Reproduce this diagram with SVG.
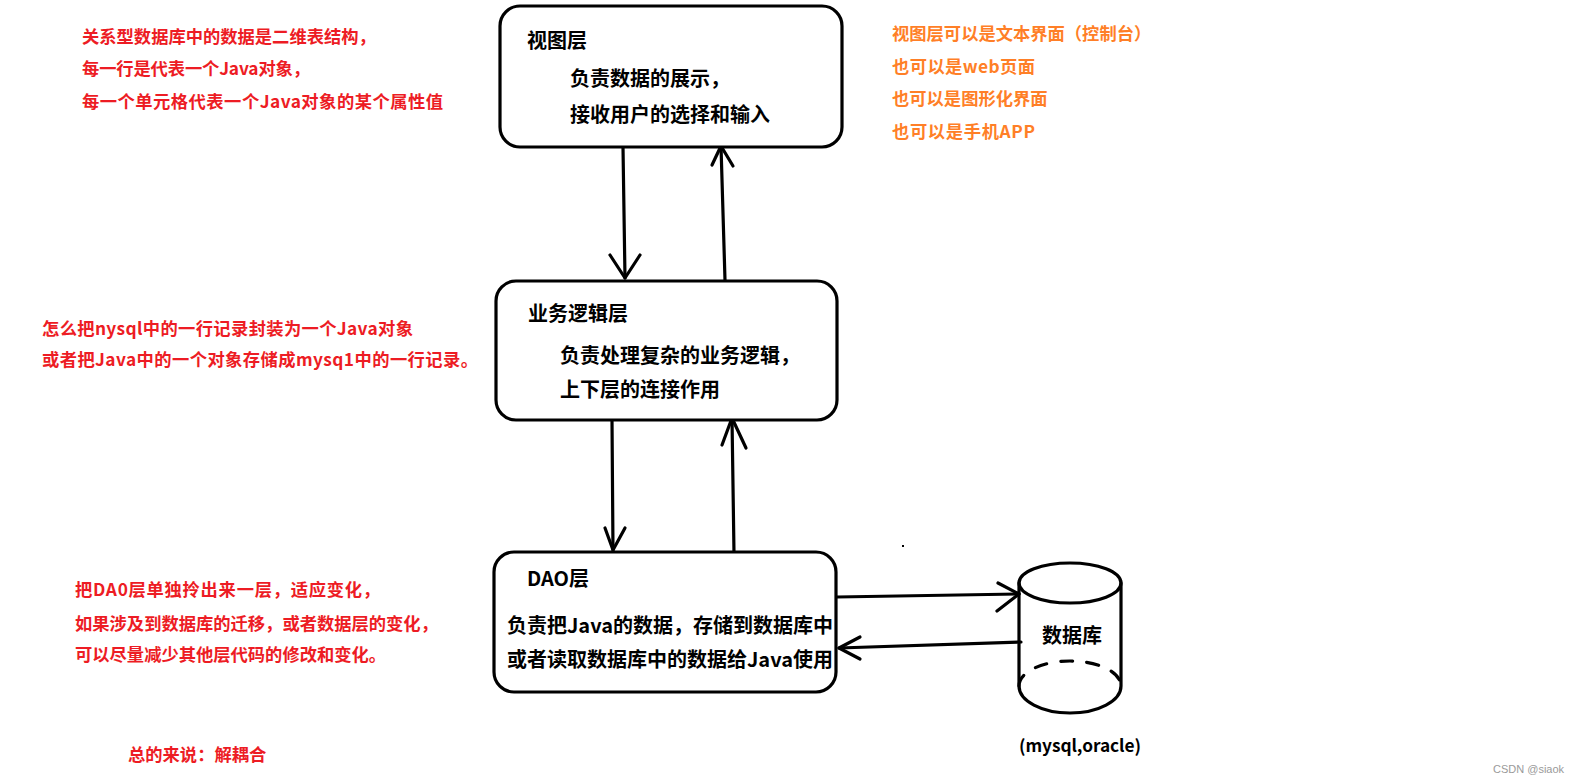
<svg xmlns="http://www.w3.org/2000/svg" width="1575" height="783" viewBox="0 0 1575 783">
<style>
.box{fill:#fff;stroke:#000;stroke-width:3.2}
.t{font-family:"Noto Sans CJK SC","Microsoft YaHei",sans-serif;font-weight:bold;fill:#000;font-size:20px}
.red{font-family:"Noto Sans CJK SC","Microsoft YaHei",sans-serif;font-weight:bold;fill:#ED1C24;font-size:17.3px}
.org{font-family:"Noto Sans CJK SC","Microsoft YaHei",sans-serif;font-weight:bold;fill:#FF7F27;font-size:17.3px}
.ln{fill:none;stroke:#000;stroke-width:3.2;stroke-linecap:round;stroke-linejoin:round}
.wm{font-family:"Liberation Sans",Arial,sans-serif;fill:#9a9a9a;font-size:11px}
</style>
<rect width="1575" height="783" fill="#fff"/>

<g id="connectors">
  <path class="ln" d="M623,147 L625,278"/>
  <path class="ln" d="M610,255 L625,278 L640,255"/>
  <path class="ln" d="M725,280 L721,146"/>
  <path class="ln" d="M712,165 L721,146 L733,166"/>
  <path class="ln" d="M612,420 L613,550"/>
  <path class="ln" d="M605,528 L613,550 L625,528"/>
  <path class="ln" d="M734,553 L732,418"/>
  <path class="ln" d="M722,445 L732,418 L746,448"/>
  <path class="ln" d="M837,597 L1019,594"/>
  <path class="ln" d="M998,583 L1019,594 L997,611"/>
  <path class="ln" d="M1021,642 L839,648"/>
  <path class="ln" d="M860,637 L839,648 L860,659"/>
</g>

<g id="view-layer">
  <rect class="box" x="500" y="6" width="342" height="141" rx="20"/>
  <text class="t" x="527" y="48">视图层</text>
  <text class="t" x="570" y="86">负责数据的展示，</text>
  <text class="t" x="570" y="122">接收用户的选择和输入</text>
</g>

<g id="business-layer">
  <rect class="box" x="496" y="281" width="341" height="139" rx="20"/>
  <text class="t" x="528" y="321">业务逻辑层</text>
  <text class="t" x="560" y="363">负责处理复杂的业务逻辑，</text>
  <text class="t" x="560" y="397">上下层的连接作用</text>
</g>

<g id="dao-layer">
  <rect class="box" x="494" y="552" width="342" height="140" rx="20"/>
  <text class="t" x="527" y="586">DAO层</text>
  <text class="t" x="507" y="633">负责把Java的数据，存储到数据库中</text>
  <text class="t" x="507" y="667">或者读取数据库中的数据给Java使用</text>
</g>

<g id="database">
  <path class="ln" d="M1019,583 L1019,686 A51,27 0 0 0 1121,686 L1121,583"/>
  <ellipse class="ln" cx="1070" cy="583" rx="51" ry="20"/>
  <path class="ln" d="M1019,686 A51,25 0 0 1 1121,686" stroke-dasharray="12,14"/>
  <text class="t" x="1042" y="643">数据库</text>
  <text class="t" x="1019" y="752" style="font-size:17.3px" textLength="122">(mysql,oracle)</text>
</g>

<g id="notes">
  <text class="red" x="82" y="43">关系型数据库中的数据是二维表结构，</text>
  <text class="red" x="82" y="75" textLength="228">每一行是代表一个Java对象，</text>
  <text class="red" x="82" y="108" textLength="361">每一个单元格代表一个Java对象的某个属性值</text>

  <text class="org" x="892" y="40">视图层可以是文本界面（控制台）</text>
  <text class="org" x="892" y="73" textLength="143">也可以是web页面</text>
  <text class="org" x="892" y="105">也可以是图形化界面</text>
  <text class="org" x="892" y="138" textLength="143">也可以是手机APP</text>

  <text class="red" x="42" y="335" textLength="371">怎么把nysql中的一行记录封装为一个Java对象</text>
  <text class="red" x="42" y="366" textLength="436">或者把Java中的一个对象存储成mysq1中的一行记录。</text>

  <text class="red" x="75" y="596" textLength="305">把DA0层单独拎出来一层，适应变化，</text>
  <text class="red" x="75" y="630">如果涉及到数据库的迁移，或者数据层的变化，</text>
  <text class="red" x="75" y="661">可以尽量减少其他层代码的修改和变化。</text>

  <text class="red" x="128" y="761">总的来说：解耦合</text>
</g>

<rect x="902" y="545" width="2" height="2" fill="#000"/>
<text class="wm" x="1493" y="773">CSDN @siaok</text>
</svg>
